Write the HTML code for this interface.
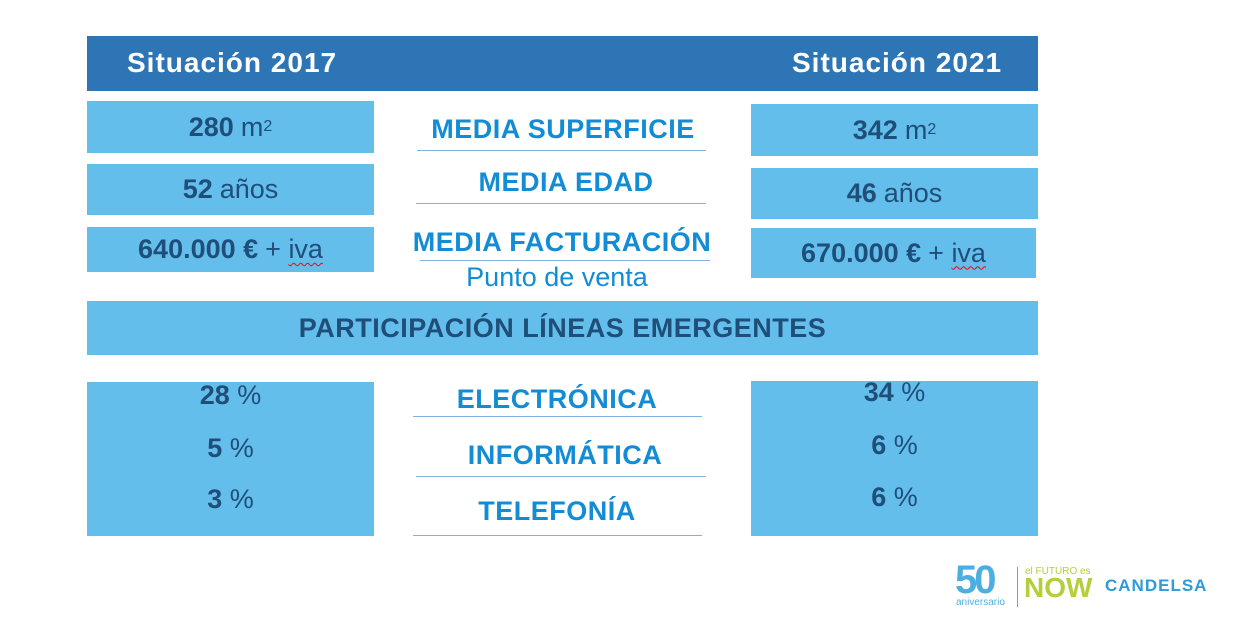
<!DOCTYPE html>
<html><head><meta charset="utf-8"><style>
body{margin:0;width:1242px;height:625px;background:#fff;position:relative;overflow:hidden;font-family:"Liberation Sans",sans-serif}
.a{position:absolute}
.hdr{left:87px;top:36px;width:951px;height:55px;background:#2E75B6}
.ht{color:#fff;font-weight:bold;font-size:28px;top:47px;letter-spacing:1px}
.bx{background:#63BEEC;color:#1F4E79;font-size:27px;text-align:center;display:flex;align-items:center;justify-content:center}
.bx b{margin-right:7px}
.lb{color:#138CD6;font-weight:bold;font-size:27px;text-align:center;width:320px;letter-spacing:0.5px}
.ln{height:1px;background:#7FB2E0}
.pct{color:#1F4E79;font-size:27px;text-align:center;width:287px}
.sp{text-decoration:underline wavy red;text-decoration-thickness:1px;text-underline-offset:4px}
</style></head><body>
<div class="a hdr"></div>
<div class="a ht" style="left:127px">Situación 2017</div>
<div class="a ht" style="left:792px">Situación 2021</div>

<div class="a bx" style="left:87px;top:101px;width:287px;height:52px"><b>280</b>m<sup style="font-size:16px">2</sup></div>
<div class="a bx" style="left:87px;top:164px;width:287px;height:51px"><b>52</b>años</div>
<div class="a bx" style="left:87px;top:227px;width:287px;height:45px"><b>640.000 €</b>+&nbsp;<span class="sp">iva</span></div>

<div class="a bx" style="left:751px;top:104px;width:287px;height:52px"><b>342</b>m<sup style="font-size:16px">2</sup></div>
<div class="a bx" style="left:751px;top:168px;width:287px;height:51px"><b>46</b>años</div>
<div class="a bx" style="left:751px;top:228px;width:285px;height:50px"><b>670.000 €</b>+&nbsp;<span class="sp">iva</span></div>

<div class="a lb" style="left:403px;top:114px">MEDIA SUPERFICIE</div>
<div class="a ln" style="left:417px;top:150px;width:289px"></div>
<div class="a lb" style="left:406px;top:167px">MEDIA EDAD</div>
<div class="a ln" style="left:416px;top:203px;width:290px"></div>
<div class="a lb" style="left:392px;top:227px;width:340px">MEDIA FACTURACIÓN</div>
<div class="a ln" style="left:420px;top:260px;width:290px"></div>
<div class="a" style="left:397px;top:262px;width:320px;text-align:center;color:#138CD6;font-size:27px">Punto de venta</div>

<div class="a bx" style="left:87px;top:301px;width:951px;height:54px;font-weight:bold;letter-spacing:0.5px">PARTICIPACIÓN LÍNEAS EMERGENTES</div>

<div class="a" style="left:87px;top:382px;width:287px;height:154px;background:#63BEEC"></div>
<div class="a" style="left:751px;top:381px;width:287px;height:155px;background:#63BEEC"></div>
<div class="a pct" style="left:87px;top:380px"><b>28</b> %</div>
<div class="a pct" style="left:87px;top:433px"><b>5</b> %</div>
<div class="a pct" style="left:87px;top:484px"><b>3</b> %</div>
<div class="a pct" style="left:751px;top:377px"><b>34</b> %</div>
<div class="a pct" style="left:751px;top:430px"><b>6</b> %</div>
<div class="a pct" style="left:751px;top:482px"><b>6</b> %</div>

<div class="a lb" style="left:397px;top:384px">ELECTRÓNICA</div>
<div class="a ln" style="left:413px;top:416px;width:289px"></div>
<div class="a lb" style="left:405px;top:440px">INFORMÁTICA</div>
<div class="a ln" style="left:416px;top:476px;width:290px"></div>
<div class="a lb" style="left:397px;top:496px">TELEFONÍA</div>
<div class="a ln" style="left:413px;top:535px;width:289px"></div>

<div class="a" style="left:955px;top:562px;color:#4DAFE0;font-size:40px;font-weight:bold;letter-spacing:-3px;line-height:36px">50</div>
<div class="a" style="left:956px;top:597px;color:#4DAFE0;font-size:10px">aniversario</div>
<div class="a" style="left:1017px;top:567px;width:1px;height:40px;background:#4DAFE0"></div>
<div class="a" style="left:1025px;top:566px;color:#B5CF3A;font-size:10px">el FUTURO es</div>
<div class="a" style="left:1024px;top:574px;color:#B5CF3A;font-size:28px;font-weight:bold;line-height:28px">NOW</div>
<div class="a" style="left:1105px;top:576px;color:#2E9AD8;font-size:17px;font-weight:bold;letter-spacing:1px">CANDELSA</div>
</body></html>
